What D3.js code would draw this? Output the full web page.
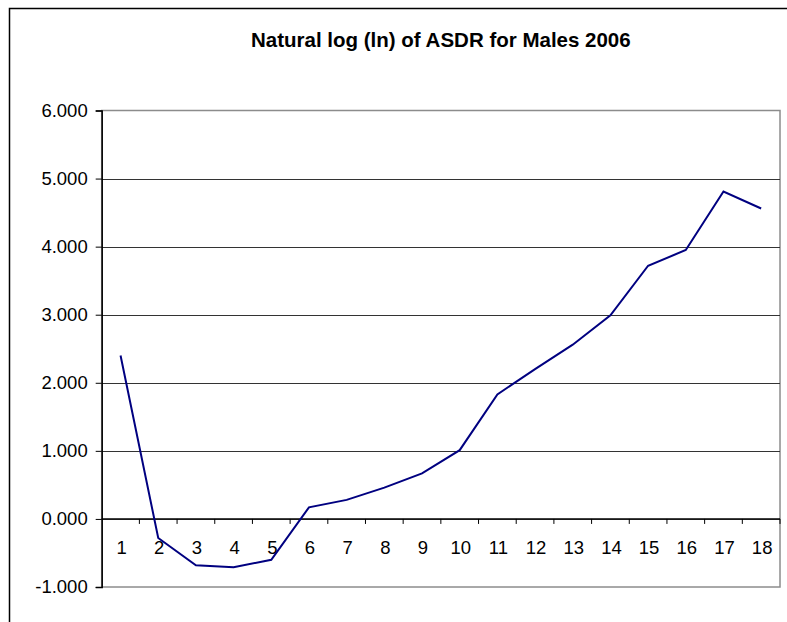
<!DOCTYPE html>
<html>
<head>
<meta charset="utf-8">
<script src="https://cdn.jsdelivr.net/npm/d3@7"></script>
<style>
  body { margin: 0; background: #fff; }
  svg { display: block; font-family: "Liberation Sans", Arial, sans-serif; }
</style>
</head>
<body>
<div id="chart"></div>
<script>
"use strict";

// age groups 1..18
let categories = ["1", "2", "3", "4", "5", "6", "7", "8", "9", "10",
  "11", "12", "13", "14", "15", "16", "17", "18"];
// ln(ASDR) values
let lnValues = [2.40, -0.28, -0.68, -0.71, -0.60, 0.17, 0.28, 0.46, 0.67, 1.01,
  1.83, 2.20, 2.56, 2.99, 3.72, 3.95, 4.81, 4.56];
let yTicks = [-1, 0, 1, 2, 3, 4, 5, 6];
let title = "Natural log (ln) of ASDR for Males 2006";

(function () {
  let width = 787, height = 622;
  let plot = { left: 101.7, top: 110.5, right: 780, bottom: 587 };

  let svg = d3.select('#chart').append('svg')
    .attr('width', width)
    .attr('height', height);

  // outer chart frame (runs off right and bottom)
  svg.append('rect')
    .attr('x', 9.5).attr('y', 8.5)
    .attr('width', 800).attr('height', 700)
    .attr('fill', 'none')
    .attr('stroke', '#000')
    .attr('stroke-width', 1.5);

  svg.append('text')
    .attr('x', (plot.left + plot.right) / 2)
    .attr('y', 47)
    .attr('text-anchor', 'middle')
    .style('font-size', '20.5px')
    .style('font-weight', 'bold')
    .text(title);

  let x = d3.scaleBand()
    .domain(categories)
    .range([plot.left, plot.right]);

  let y = d3.scaleLinear()
    .domain([-1, 6])
    .range([plot.bottom, plot.top]);

  // plot area border
  svg.append('rect')
    .attr('x', plot.left).attr('y', plot.top)
    .attr('width', plot.right - plot.left)
    .attr('height', plot.bottom - plot.top)
    .attr('fill', 'none')
    .attr('stroke', '#8c8c8c')
    .attr('stroke-width', 1.5);

  // gridlines
  svg.append('g')
    .selectAll('line')
    .data(yTicks.filter(d => d !== -1 && d !== 6))
    .enter()
    .append('line')
    .attr('x1', plot.left).attr('x2', plot.right)
    .attr('y1', d => Math.round(y(d)) + 0.5)
    .attr('y2', d => Math.round(y(d)) + 0.5)
    .attr('stroke', '#333')
    .attr('stroke-width', 1.2);

  // y axis
  let fmt = d3.format('.3f');
  let yAxis = d3.axisLeft(y)
    .tickValues(yTicks)
    .tickSize(6)
    .tickPadding(8)
    .tickFormat(d => fmt(d).replace('\u2212', '-'));

  let gy = svg.append('g')
    .attr('transform', 'translate(' + plot.left + ',0)')
    .call(yAxis);
  gy.select('.domain').attr('stroke', '#000').attr('stroke-width', 1.5);
  gy.selectAll('.tick line').attr('stroke', '#000');
  gy.selectAll('text')
    .attr('fill', '#000')
    .style('font-size', '18.5px')
    .style('font-family', '"Liberation Sans", Arial, sans-serif');

  // category axis sits at zero, ticks between categories
  let y0 = y(0);
  let gx = svg.append('g');
  gx.append('line')
    .attr('x1', plot.left).attr('x2', plot.right)
    .attr('y1', y0).attr('y2', y0)
    .attr('stroke', '#000')
    .attr('stroke-width', 1.3);

  gx.selectAll('line.tick')
    .data(categories.slice(1).concat(['end']))
    .enter()
    .append('line')
    .attr('class', 'tick')
    .attr('x1', (d, i) => plot.left + (i + 1) * x.bandwidth())
    .attr('x2', (d, i) => plot.left + (i + 1) * x.bandwidth())
    .attr('y1', y0)
    .attr('y2', y0 + 5)
    .attr('stroke', '#000');

  gx.selectAll('text')
    .data(categories)
    .enter()
    .append('text')
    .attr('x', d => x(d) + x.bandwidth() / 2 + 1)
    .attr('y', y0 + 35)
    .attr('text-anchor', 'middle')
    .style('font-size', '18.5px')
    .text(d => d);

  // series
  let line = d3.line()
    .x((d, i) => x(categories[i]) + x.bandwidth() / 2)
    .y(d => y(d));

  svg.append('path')
    .datum(lnValues)
    .attr('d', line)
    .attr('fill', 'none')
    .attr('stroke', '#000080')
    .attr('stroke-width', 2);
})();
</script>
</body>
</html>
